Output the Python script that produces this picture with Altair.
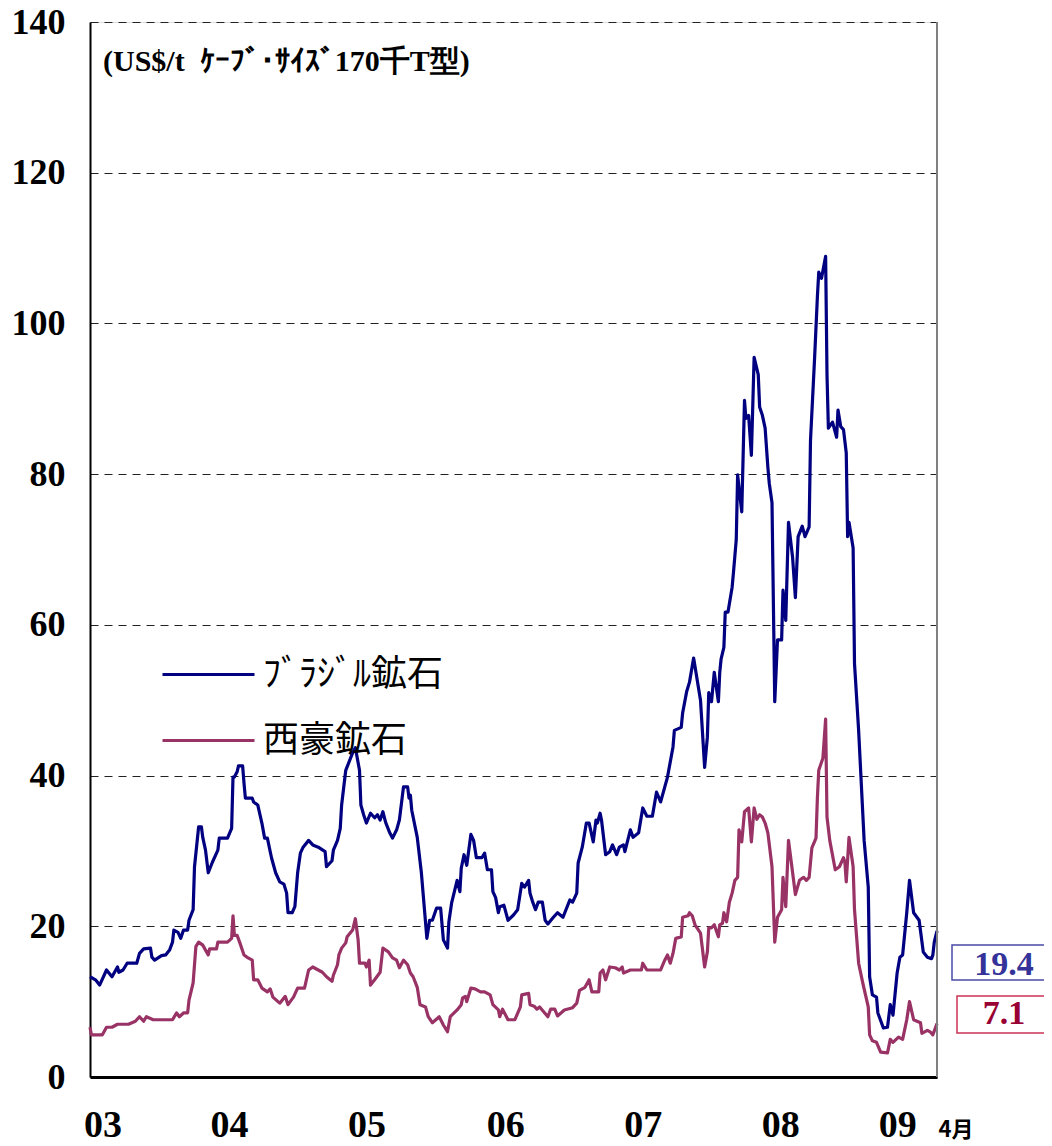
import altair as alt
import pandas as pd

# ---- data ----
brazil_t = [2003.00, 2003.04, 2003.07, 2003.12, 2003.16, 2003.20, 2003.21, 2003.24, 2003.27, 2003.34,
            2003.36, 2003.39, 2003.44, 2003.45, 2003.47, 2003.52, 2003.55, 2003.58, 2003.60, 2003.61,
            2003.64, 2003.66, 2003.68, 2003.71, 2003.72, 2003.75, 2003.76, 2003.79, 2003.81, 2003.82,
            2003.84, 2003.86, 2003.89, 2003.93, 2003.94, 2004.00, 2004.03, 2004.04, 2004.05, 2004.07,
            2004.08, 2004.11, 2004.12, 2004.13, 2004.18, 2004.19, 2004.22, 2004.25, 2004.27, 2004.29,
            2004.32, 2004.35, 2004.38, 2004.41, 2004.43, 2004.44, 2004.47, 2004.49, 2004.51, 2004.53,
            2004.55, 2004.59, 2004.62, 2004.66, 2004.71, 2004.72, 2004.76, 2004.77, 2004.80, 2004.82,
            2004.83, 2004.86, 2004.91, 2004.93, 2004.96, 2004.97, 2004.99, 2005.01, 2005.04, 2005.07,
            2005.09, 2005.11, 2005.13, 2005.15, 2005.18, 2005.20, 2005.23, 2005.25, 2005.28, 2005.31,
            2005.32, 2005.33, 2005.34, 2005.38, 2005.41, 2005.45, 2005.47, 2005.49, 2005.52, 2005.55,
            2005.57, 2005.60, 2005.61, 2005.63, 2005.67, 2005.69, 2005.70, 2005.72, 2005.74, 2005.77,
            2005.79, 2005.81, 2005.85, 2005.87, 2005.89, 2005.92, 2005.93, 2005.95, 2005.97, 2005.98,
            2006.01, 2006.04, 2006.08, 2006.11, 2006.14, 2006.16, 2006.19, 2006.20, 2006.22, 2006.24,
            2006.26, 2006.29, 2006.31, 2006.33, 2006.37, 2006.40, 2006.44, 2006.49, 2006.51, 2006.54,
            2006.55, 2006.58, 2006.61, 2006.63, 2006.66, 2006.68, 2006.69, 2006.71, 2006.72, 2006.75,
            2006.78, 2006.80, 2006.83, 2006.85, 2006.88, 2006.89, 2006.93, 2006.95, 2006.99, 2007.02,
            2007.05, 2007.09, 2007.12, 2007.15, 2007.20, 2007.24, 2007.25, 2007.30, 2007.31, 2007.34,
            2007.36, 2007.39, 2007.44, 2007.47, 2007.49, 2007.50, 2007.52, 2007.54, 2007.57, 2007.58,
            2007.59, 2007.61, 2007.62, 2007.64, 2007.67, 2007.68, 2007.70, 2007.71, 2007.74, 2007.76,
            2007.77, 2007.79, 2007.81, 2007.83, 2007.86, 2007.87, 2007.89, 2007.91, 2007.93, 2007.94,
            2007.96, 2007.98, 2008.00, 2008.03, 2008.04, 2008.06, 2008.08, 2008.11, 2008.13, 2008.15,
            2008.18, 2008.20, 2008.23, 2008.24, 2008.27, 2008.29, 2008.30, 2008.32, 2008.35, 2008.36,
            2008.37, 2008.40, 2008.43, 2008.44, 2008.46, 2008.48, 2008.50, 2008.51, 2008.52, 2008.55,
            2008.56, 2008.59, 2008.63, 2008.66, 2008.67, 2008.69, 2008.72, 2008.73, 2008.77, 2008.80,
            2008.82, 2008.84, 2008.87, 2008.89, 2008.91, 2008.94, 2008.96, 2008.99, 2009.03, 2009.06,
            2009.09, 2009.12, 2009.13, 2009.14, 2009.16]
brazil_v = [13.3, 12.9, 12.2, 14.2, 13.3, 14.6, 13.9, 14.2, 15.1, 15.1,
            16.4, 17.0, 17.1, 15.9, 15.5, 16.1, 16.2, 16.9, 17.9, 19.5,
            19.2, 18.4, 19.5, 19.5, 20.8, 22.2, 27.9, 33.2, 33.2, 31.8,
            30.1, 27.1, 28.5, 30.1, 31.7, 31.7, 33.0, 39.8, 39.8, 40.5,
            41.3, 41.3, 39.0, 37.0, 37.0, 36.5, 36.1, 33.7, 31.7, 31.7,
            29.1, 27.1, 25.9, 25.6, 24.4, 21.8, 21.8, 22.6, 27.1, 29.7,
            30.5, 31.4, 30.8, 30.5, 29.9, 27.9, 28.7, 30.1, 31.4, 33.0,
            36.1, 40.7, 43.0, 43.7, 40.7, 36.1, 34.8, 33.7, 35.0, 34.4,
            34.8, 34.1, 35.2, 33.8, 32.4, 31.7, 32.8, 34.1, 38.5, 38.5,
            37.0, 37.4, 35.4, 31.8, 27.1, 18.4, 20.8, 20.8, 22.4, 22.4,
            18.2, 17.1, 20.6, 23.1, 26.1, 24.6, 27.7, 29.5, 28.1, 32.2,
            31.4, 29.1, 29.1, 29.7, 27.5, 27.5, 24.6, 23.8, 21.8, 22.6,
            22.8, 20.8, 21.5, 22.2, 25.7, 25.2, 26.1, 24.4, 23.2, 22.2,
            23.2, 23.2, 20.8, 20.3, 21.2, 21.8, 21.2, 23.5, 23.2, 24.4,
            28.4, 30.5, 33.7, 33.7, 31.2, 34.1, 33.7, 35.0, 34.1, 29.5,
            29.9, 30.8, 29.5, 30.5, 30.8, 29.9, 32.8, 31.8, 32.4, 35.7,
            34.6, 34.6, 37.8, 36.5, 39.8, 43.8, 46.0, 46.4, 48.3, 51.2,
            52.4, 55.6, 50.0, 41.1, 45.1, 51.0, 49.8, 53.7, 49.8, 53.7,
            55.5, 57.0, 61.7, 61.7, 65.0, 67.0, 71.3, 79.9, 75.0, 89.8,
            87.4, 87.8, 82.5, 95.5, 93.2, 88.9, 87.8, 86.1, 80.9, 78.8,
            76.2, 49.8, 58.0, 58.0, 64.6, 60.6, 73.6, 68.9, 63.6, 71.7,
            73.1, 71.7, 73.0, 84.5, 95.5, 103.5, 106.8, 106.0, 108.9, 93.2,
            86.1, 86.9, 84.9, 88.5, 86.3, 85.9, 82.8, 71.7, 73.6, 70.2,
            54.9, 46.0, 31.4, 25.2, 13.3, 10.9, 10.6, 8.5, 6.5, 6.6,
            9.6, 8.2, 13.8, 15.9, 16.2, 21.8, 26.1, 21.8, 20.8, 16.6,
            15.9, 15.7, 16.2, 17.9, 19.4]

aus_t = [2003.00, 2003.01, 2003.09, 2003.12, 2003.16, 2003.20, 2003.28, 2003.33, 2003.36, 2003.39,
         2003.41, 2003.46, 2003.60, 2003.63, 2003.65, 2003.68, 2003.71, 2003.72, 2003.75, 2003.77,
         2003.79, 2003.82, 2003.86, 2003.87, 2003.92, 2003.93, 2004.00, 2004.03, 2004.04, 2004.05,
         2004.07, 2004.09, 2004.12, 2004.15, 2004.18, 2004.19, 2004.22, 2004.25, 2004.29, 2004.31,
         2004.33, 2004.38, 2004.42, 2004.44, 2004.48, 2004.51, 2004.56, 2004.59, 2004.62, 2004.66,
         2004.69, 2004.72, 2004.76, 2004.77, 2004.80, 2004.81, 2004.83, 2004.86, 2004.87, 2004.91,
         2004.93, 2004.95, 2004.96, 2005.00, 2005.01, 2005.03, 2005.04, 2005.07, 2005.11, 2005.13,
         2005.17, 2005.20, 2005.23, 2005.25, 2005.28, 2005.31, 2005.33, 2005.35, 2005.38, 2005.40,
         2005.44, 2005.46, 2005.49, 2005.54, 2005.57, 2005.60, 2005.62, 2005.67, 2005.70, 2005.71,
         2005.73, 2005.74, 2005.77, 2005.80, 2005.84, 2005.87, 2005.91, 2005.93, 2005.97, 2005.98,
         2006.00, 2006.04, 2006.09, 2006.13, 2006.14, 2006.19, 2006.20, 2006.23, 2006.25, 2006.27,
         2006.33, 2006.35, 2006.38, 2006.40, 2006.45, 2006.51, 2006.54, 2006.56, 2006.60, 2006.63,
         2006.65, 2006.70, 2006.71, 2006.73, 2006.75, 2006.78, 2006.82, 2006.85, 2006.87, 2006.88,
         2006.93, 2007.01, 2007.02, 2007.05, 2007.15, 2007.18, 2007.20, 2007.22, 2007.24, 2007.26,
         2007.30, 2007.31, 2007.35, 2007.36, 2007.38, 2007.40, 2007.44, 2007.47, 2007.49, 2007.50,
         2007.52, 2007.54, 2007.57, 2007.58, 2007.60, 2007.61, 2007.63, 2007.65, 2007.67, 2007.69,
         2007.71, 2007.72, 2007.74, 2007.76, 2007.79, 2007.81, 2007.83, 2007.85, 2007.87, 2007.89,
         2007.91, 2007.93, 2007.96, 2007.98, 2008.00, 2008.03, 2008.04, 2008.06, 2008.08, 2008.11,
         2008.13, 2008.16, 2008.19, 2008.21, 2008.23, 2008.25, 2008.28, 2008.29, 2008.30, 2008.33,
         2008.35, 2008.36, 2008.38, 2008.42, 2008.45, 2008.48, 2008.49, 2008.50, 2008.52, 2008.55,
         2008.56, 2008.59, 2008.62, 2008.66, 2008.67, 2008.69, 2008.72, 2008.75, 2008.80, 2008.82,
         2008.84, 2008.88, 2008.91, 2008.94, 2008.96, 2008.99, 2009.04, 2009.05, 2009.09, 2009.11,
         2009.13, 2009.15, 2009.16]
aus_v = [6.6, 5.6, 5.6, 6.6, 6.6, 7.0, 7.0, 7.4, 8.0, 7.4,
         8.0, 7.6, 7.6, 8.5, 8.0, 8.5, 8.5, 10.2, 12.5, 17.3,
         17.9, 17.5, 16.2, 17.0, 17.0, 17.9, 17.9, 18.4, 21.4, 18.8,
         18.8, 17.8, 16.2, 15.8, 15.5, 12.9, 12.9, 11.8, 11.3, 11.7,
         10.6, 9.8, 10.7, 9.6, 10.6, 11.8, 11.8, 14.2, 14.6, 14.2,
         13.9, 13.3, 12.7, 13.5, 14.9, 16.2, 17.1, 17.8, 18.6, 19.5,
         21.0, 18.2, 15.1, 15.1, 14.6, 15.5, 12.2, 12.9, 13.9, 17.1,
         16.6, 15.8, 15.5, 14.5, 15.5, 14.9, 13.8, 13.3, 11.9, 9.6,
         9.3, 8.0, 7.2, 8.0, 6.9, 6.0, 8.0, 8.9, 9.6, 10.5,
         10.7, 10.0, 11.8, 11.7, 11.3, 11.3, 10.9, 9.6, 8.9, 8.0,
         9.0, 7.6, 7.6, 9.3, 10.9, 11.1, 9.6, 9.4, 9.0, 9.3,
         8.0, 9.0, 9.0, 8.1, 8.9, 9.2, 9.8, 11.5, 11.9, 12.9,
         11.3, 11.3, 13.8, 14.2, 12.9, 14.6, 14.5, 14.2, 14.6, 13.8,
         14.2, 14.2, 15.1, 14.2, 14.2, 15.5, 16.2, 15.1, 16.4, 18.4,
         18.6, 21.2, 21.4, 21.8, 21.4, 20.2, 19.1, 14.6, 16.6, 19.8,
         19.8, 20.2, 18.6, 20.2, 20.4, 21.8, 20.6, 23.2, 24.4, 26.1,
         26.5, 32.8, 31.2, 35.2, 35.7, 31.2, 35.7, 34.2, 34.8, 34.5,
         33.7, 32.4, 27.9, 17.9, 21.2, 22.2, 26.5, 22.6, 31.4, 27.1,
         24.2, 26.1, 26.5, 26.1, 26.5, 30.4, 31.7, 37.0, 40.7, 42.3,
         47.5, 34.5, 31.4, 27.5, 27.9, 29.1, 28.5, 25.9, 31.8, 27.9,
         22.2, 15.1, 12.5, 9.3, 5.6, 4.8, 4.6, 3.3, 3.2, 5.0,
         4.6, 5.3, 5.0, 7.6, 10.0, 7.6, 7.2, 5.8, 6.2, 6.0,
         5.6, 6.6, 7.1]

series_names = ["ﾌﾞﾗｼﾞﾙ鉱石", "西豪鉱石"]
series_colors = ["#000080", "#993366"]
y_ticks = [0, 20, 40, 60, 80, 100, 120, 140]
x_tick_pos = [2003.09, 2004.01, 2005.01, 2006.02, 2007.02, 2008.02, 2008.87]
x_tick_labels = ["03", "04", "05", "06", "07", "08", "09"]
unit_text = "(US$/t\u00a0\u00a0ｹｰﾌﾞ･ｻｲｽﾞ170千T型)"
month_text = "4月"

rows = []
for name, ts, vs in [(series_names[0], brazil_t, brazil_v), (series_names[1], aus_t, aus_v)]:
    for i, (t, v) in enumerate(zip(ts, vs)):
        rows.append({"series": name, "t": t, "v": v, "i": i})
df = pd.DataFrame(rows)

W, H = 847, 1055
SERIF = "Liberation Serif, Times New Roman, serif"
JP = "Noto Sans CJK JP"

label_expr = " : ".join(
    f"abs(datum.value - {p}) < 0.005 ? '{l}'" for p, l in zip(x_tick_pos, x_tick_labels)
) + " : ''"

xscale = alt.Scale(domain=[2003.0, 2009.16], nice=False, zero=False)
yscale = alt.Scale(domain=[0, 140], nice=False)

lines = alt.Chart(df).mark_line(strokeWidth=3.2, strokeJoin="round").encode(
    x=alt.X("t:Q", scale=xscale, axis=alt.Axis(
        values=x_tick_pos, labelExpr=label_expr, ticks=False, grid=False,
        domainColor="black", domainWidth=3, labelFont=SERIF, labelFontWeight="bold",
        labelFontSize=38, labelColor="black", labelPadding=29, title=None,
        labelOverlap=False, labelFlush=False, labelBound=False)),
    y=alt.Y("v:Q", scale=yscale, axis=alt.Axis(
        values=y_ticks, ticks=False, grid=True, gridDash=[8, 6], gridColor="#222222",
        gridWidth=1.2, domainColor="black", domainWidth=2, labelFont=SERIF,
        labelFontWeight="bold", labelFontSize=36, labelColor="black", labelPadding=25,
        title=None)),
    color=alt.Color("series:N", scale=alt.Scale(domain=series_names, range=series_colors),
                    legend=alt.Legend(orient="none", legendX=71, legendY=605, title=None,
                                      symbolType="stroke", symbolSize=8464, symbolStrokeWidth=3,
                                      labelFont=JP, labelFontSize=36, labelColor="black",
                                      labelOffset=7, rowPadding=-3, labelLimit=500)),
    order="i:Q",
)

right_border = alt.Chart(pd.DataFrame({"v": [0]})).mark_rule(color="#808080", strokeWidth=2).encode(
    x=alt.value(W), y=alt.value(0), y2=alt.value(H))

unit = alt.Chart(pd.DataFrame({"s": [unit_text]})).mark_text(
    align="left", baseline="middle", font=SERIF, fontWeight="bold", fontSize=30, color="black"
).encode(text="s:N", x=alt.value(13), y=alt.value(40))

month = alt.Chart(pd.DataFrame({"s": [month_text]})).mark_text(
    align="center", baseline="middle", font=JP, fontWeight="bold", fontSize=22, color="black"
).encode(text="s:N", x=alt.value(866), y=alt.value(1108))

box_df = pd.DataFrame({"label": [f"{brazil_v[-1]:.1f}", f"{aus_v[-1]:.1f}"]})

box1 = alt.Chart(box_df.iloc[[0]]).mark_rect(fill="white", stroke="#4a4aa8", strokeWidth=1.5).encode(
    x=alt.value(862), x2=alt.value(990), y=alt.value(923), y2=alt.value(958))
box2 = alt.Chart(box_df.iloc[[1]]).mark_rect(fill="white", stroke="#cc3355", strokeWidth=1.5).encode(
    x=alt.value(867), x2=alt.value(990), y=alt.value(974), y2=alt.value(1011))
txt1 = alt.Chart(box_df.iloc[[0]]).mark_text(
    font=SERIF, fontWeight="bold", fontSize=34, color="#333399", baseline="middle", align="center"
).encode(text="label:N", x=alt.value(914), y=alt.value(943))
txt2 = alt.Chart(box_df.iloc[[1]]).mark_text(
    font=SERIF, fontWeight="bold", fontSize=34, color="#990033", baseline="middle", align="center"
).encode(text="label:N", x=alt.value(914), y=alt.value(992))

chart = alt.layer(lines, right_border, unit, month, box1, box2, txt1, txt2).properties(
    width=W, height=H,
    autosize=alt.AutoSizeParams(type="none"),
    padding={"left": 82, "top": 14, "right": 107, "bottom": 75},
).configure_view(stroke=None).configure(background="white")

chart.save("out.html", embed_options={"renderer": "svg", "actions": False})
